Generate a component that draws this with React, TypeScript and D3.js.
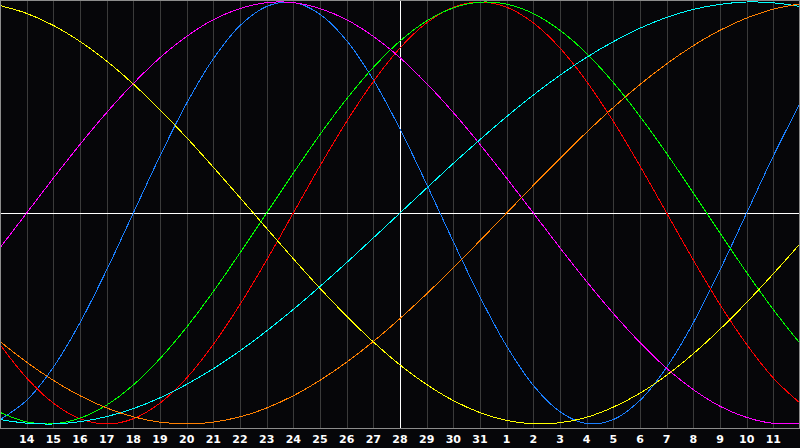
import { useEffect, useRef } from 'react'
import * as d3 from 'd3'

// days shown across the chart, one grid line per day
const days = [13, 14, 15, 16, 17, 18, 19, 20, 21, 22, 23, 24, 25, 26, 27, 28, 29, 30, 31, 1, 2, 3, 4, 5, 6, 7, 8, 9, 10, 11, 12]
const todayIndex = 15

// daily values (-1..1) for each cycle
const physical = [-0.979, -0.888, -0.731, -0.52, -0.27, 0, 0.27, 0.52, 0.731, 0.888, 0.979, 0.998, 0.942, 0.817, 0.631, 0.398, 0.136, -0.136, -0.398, -0.631, -0.817, -0.942, -0.998, -0.979, -0.888, -0.731, -0.52, -0.27, 0, 0.27, 0.52]
const emotional = [-0.623, -0.782, -0.901, -0.975, -1, -0.975, -0.901, -0.782, -0.623, -0.434, -0.223, 0, 0.223, 0.434, 0.623, 0.782, 0.901, 0.975, 1, 0.975, 0.901, 0.782, 0.623, 0.434, 0.223, 0, -0.223, -0.434, -0.623, -0.782, -0.901]
const intellectual = [-0.945, -0.99, -0.999, -0.972, -0.91, -0.815, -0.69, -0.541, -0.372, -0.189, 0, 0.189, 0.372, 0.541, 0.69, 0.815, 0.91, 0.972, 0.999, 0.99, 0.945, 0.866, 0.756, 0.618, 0.458, 0.282, 0.095, -0.095, -0.282, -0.458, -0.618]
const intuitive = [-0.165, 0, 0.165, 0.325, 0.476, 0.614, 0.736, 0.837, 0.916, 0.969, 0.997, 0.997, 0.969, 0.916, 0.837, 0.736, 0.614, 0.476, 0.325, 0.165, 0, -0.165, -0.325, -0.476, -0.614, -0.736, -0.837, -0.916, -0.969, -0.997, -0.997]
const aesthetic = [0.983, 0.946, 0.889, 0.813, 0.72, 0.611, 0.489, 0.357, 0.217, 0.073, -0.073, -0.217, -0.357, -0.489, -0.611, -0.72, -0.813, -0.889, -0.946, -0.983, -0.999, -0.994, -0.968, -0.92, -0.854, -0.769, -0.667, -0.551, -0.424, -0.288, -0.146]
const spiritual = [-0.979, -0.996, -1, -0.989, -0.965, -0.927, -0.876, -0.812, -0.738, -0.653, -0.559, -0.457, -0.348, -0.235, -0.118, 0, 0.118, 0.235, 0.348, 0.457, 0.559, 0.653, 0.738, 0.812, 0.876, 0.927, 0.965, 0.989, 1, 0.996, 0.979]
const awareness = [-0.609, -0.707, -0.793, -0.866, -0.924, -0.966, -0.991, -1, -0.991, -0.966, -0.924, -0.866, -0.793, -0.707, -0.609, -0.5, -0.383, -0.259, -0.131, 0, 0.131, 0.259, 0.383, 0.5, 0.609, 0.707, 0.793, 0.866, 0.924, 0.966, 0.991]

const series = [
  { name: 'Physical', values: physical, color: '#1a7fff' },
  { name: 'Emotional', values: emotional, color: '#ff0000' },
  { name: 'Intellectual', values: intellectual, color: '#00ff00' },
  { name: 'Intuitive', values: intuitive, color: '#ff00ff' },
  { name: 'Aesthetic', values: aesthetic, color: '#ffff00' },
  { name: 'Spiritual', values: spiritual, color: '#00ffff' },
  { name: 'Awareness', values: awareness, color: '#ff8000' },
]

export default function App() {
  const svgRef = useRef<SVGSVGElement>(null)

  useEffect(() => {
    if (!svgRef.current) return
    const svg = d3.select(svgRef.current)
    svg.selectAll('*').remove()

    const width = 800
    const height = 448
    const plotBottom = 428

    const x = d3.scaleLinear().domain([0, days.length - 1]).range([0, width])
    const y = d3.scaleLinear().domain([-1, 1]).range([424, 2])

    svg.attr('width', width).attr('height', height)

    svg.append('rect')
      .attr('width', width)
      .attr('height', height)
      .attr('fill', '#060609')

    // day grid
    const inner = d3.range(1, days.length - 1)
    svg.append('g')
      .selectAll('line')
      .data(inner.filter(i => i !== todayIndex))
      .enter().append('line')
      .attr('x1', i => Math.round(x(i)) + 0.5)
      .attr('x2', i => Math.round(x(i)) + 0.5)
      .attr('y1', 0)
      .attr('y2', plotBottom)
      .attr('stroke', '#3a3a3a')
      .attr('shape-rendering', 'crispEdges')

    // today + zero line
    svg.append('line')
      .attr('x1', Math.round(x(todayIndex)) + 0.5)
      .attr('x2', Math.round(x(todayIndex)) + 0.5)
      .attr('y1', 0)
      .attr('y2', plotBottom)
      .attr('stroke', '#ffffff')
      .attr('shape-rendering', 'crispEdges')

    svg.append('line')
      .attr('x1', 0)
      .attr('x2', width)
      .attr('y1', Math.round(y(0)) + 0.5)
      .attr('y2', Math.round(y(0)) + 0.5)
      .attr('stroke', '#ffffff')
      .attr('shape-rendering', 'crispEdges')

    // curves
    const line = d3.line<number>()
      .x((_, i) => x(i))
      .y(d => y(d))
      .curve(d3.curveCatmullRom)

    series.forEach(s => {
      svg.append('path')
        .datum(s.values)
        .attr('fill', 'none')
        .attr('stroke', s.color)
        .attr('stroke-width', 1)
        .attr('shape-rendering', 'crispEdges')
        .attr('d', line)
    })

    // frame
    svg.append('rect')
      .attr('x', 0.5)
      .attr('y', 0.5)
      .attr('width', width - 1)
      .attr('height', plotBottom)
      .attr('fill', 'none')
      .attr('stroke', '#8c8c8c')
      .attr('shape-rendering', 'crispEdges')

    // day labels
    svg.append('g')
      .selectAll('text')
      .data(inner)
      .enter().append('text')
      .attr('x', i => x(i))
      .attr('y', 443)
      .attr('text-anchor', 'middle')
      .style('font-family', 'DejaVu Sans, sans-serif')
      .style('font-weight', 'bold')
      .style('font-size', '11px')
      .style('fill', '#ffffff')
      .text(i => days[i])
  }, [])

  return (
    <div style={{ position: 'fixed', left: 0, top: 0, width: 800, height: 448, background: '#060609' }}>
      <svg ref={svgRef} style={{ display: 'block' }}></svg>
    </div>
  )
}
